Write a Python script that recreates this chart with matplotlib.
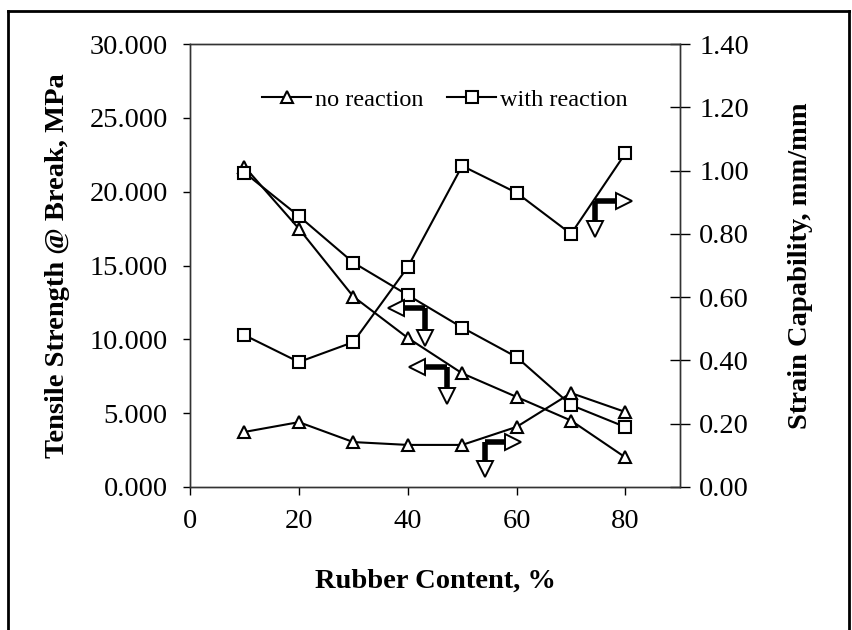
import matplotlib
matplotlib.use("Agg")
import matplotlib.pyplot as plt
from matplotlib.lines import Line2D

plt.rcParams['font.family'] = ['Liberation Serif', 'DejaVu Serif']

rubber = [10, 20, 30, 40, 50, 60, 70, 80]
tensile_no_reaction = [21.7, 17.5, 12.9, 10.1, 7.7, 6.1, 4.5, 2.0]
tensile_with_reaction = [21.3, 18.35, 15.2, 13.0, 10.8, 8.8, 5.55, 4.06]
strain_no_reaction = [0.174, 0.205, 0.142, 0.133, 0.133, 0.19, 0.297, 0.237]
strain_with_reaction = [0.48, 0.395, 0.458, 0.695, 1.015, 0.93, 0.80, 1.055]

x_ticks = [0, 20, 40, 60, 80]
left_ticks = [0, 5, 10, 15, 20, 25, 30]
right_ticks = [0.0, 0.2, 0.4, 0.6, 0.8, 1.0, 1.2, 1.4]

fig = plt.figure(figsize=(8.52, 6.30), dpi=100)
ax = fig.add_axes([0.223, 0.227, 0.575, 0.703])
ax2 = ax.twinx()

tri = dict(marker='^', markersize=8.5, markerfacecolor='white',
           markeredgecolor='black', markeredgewidth=1.5, color='black', lw=1.5)
sq = dict(marker='s', markersize=8.5, markerfacecolor='white',
          markeredgecolor='black', markeredgewidth=1.5, color='black', lw=1.5)

ax.plot(rubber, tensile_no_reaction, **tri, zorder=3)
ax.plot(rubber, tensile_with_reaction, **sq, zorder=3)
ax2.plot(rubber, strain_no_reaction, **tri, zorder=3)
ax2.plot(rubber, strain_with_reaction, **sq, zorder=3)

ax.set_xlim(0, 90)
ax.set_ylim(0, 30)
ax2.set_ylim(0, 1.4)
ax.set_xticks(x_ticks)
ax.set_yticks(left_ticks)
ax.set_yticklabels([f"{v:.3f}" for v in left_ticks])
ax2.set_yticks(right_ticks)
ax2.set_yticklabels([f"{v:.2f}" for v in right_ticks])

ax.tick_params(axis='x', direction='out', length=6, width=1, pad=10, labelsize=20.5)
ax.tick_params(axis='y', direction='out', length=5, width=1, pad=11, labelsize=20.5)
ax2.tick_params(axis='y', direction='inout', length=14, width=1, pad=7, labelsize=20.5)

for a in (ax, ax2):
    for s in a.spines.values():
        s.set_linewidth(1.0)
        s.set_color('#333333')

ax.set_xlabel("Rubber Content, %", fontsize=20.5, fontweight='bold', labelpad=25)
ax.set_ylabel("Tensile Strength @ Break, MPa", fontsize=20.5, fontweight='bold', labelpad=14)
ax2.set_ylabel("Strain Capability, mm/mm", fontsize=20.5, fontweight='bold', labelpad=28)

# legend
handles = [Line2D([], [], **tri), Line2D([], [], **sq)]
ax.legend(handles, ["no reaction", "with reaction"], loc='center',
          bbox_to_anchor=(0.52, 0.874), ncol=2, frameon=False, fontsize=17.5,
          handlelength=2.0, handletextpad=0.15, columnspacing=1.0,
          borderpad=0, borderaxespad=0)

# axis pointer arrows: (corner x, corner y, horizontal tip x, vertical tip y)
def pointer(cx, cy, hx, vy):
    hdir = '<' if hx < cx else '>'
    dx = 1.6 if hx < cx else -1.6
    ax.plot([cx, hx + dx], [cy, cy], color='black', lw=4,
            solid_capstyle='butt', zorder=4)
    ax.plot([cx, cx], [cy, vy + 0.6], color='black', lw=4,
            solid_capstyle='butt', zorder=4)
    ax.plot([hx + dx], [cy], marker=hdir, markersize=12, markerfacecolor='white',
            markeredgecolor='black', markeredgewidth=1.4, zorder=5)
    ax.plot([cx], [vy + 0.6], marker='v', markersize=12, markerfacecolor='white',
            markeredgecolor='black', markeredgewidth=1.4, zorder=5)

pointer(43.2, 12.1, 36.2, 9.5)
pointer(47.2, 8.1, 40.1, 5.55)
pointer(54.2, 3.05, 61.0, 0.6)
pointer(74.4, 19.4, 81.4, 16.9)

# outer border
fig.add_artist(Line2D([0.009, 0.009], [0.0, 0.982], transform=fig.transFigure,
                      color='black', lw=2))
fig.add_artist(Line2D([0.009, 0.996], [0.982, 0.982], transform=fig.transFigure,
                      color='black', lw=2))
fig.add_artist(Line2D([0.996, 0.996], [0.0, 0.982], transform=fig.transFigure,
                      color='black', lw=2))

fig.savefig("out.png", dpi=100)
